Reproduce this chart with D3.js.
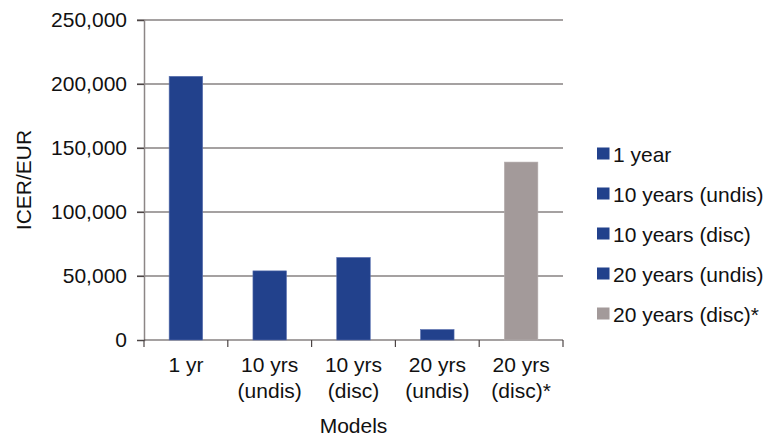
<!DOCTYPE html>
<html>
<head>
<meta charset="utf-8">
<script src="https://cdn.jsdelivr.net/npm/d3@7"></script>
<style>
  body { margin: 0; background: #fff; }
  text { font-family: "Liberation Sans", Arial, sans-serif; fill: #111; }
</style>
</head>
<body>
<div id="chart"></div>
<script>
var categories = [["1 yr"], ["10 yrs", "(undis)"], ["10 yrs", "(disc)"], ["20 yrs", "(undis)"], ["20 yrs", "(disc)*"]];
var values = [206000, 54000, 64500, 8200, 139000];
var seriesNames = ["1 year", "10 years (undis)", "10 years (disc)", "20 years (undis)", "20 years (disc)*"];
var seriesColors = ["#22418c", "#22418c", "#22418c", "#22418c", "#a39a9a"];
var yTicks = [0, 50000, 100000, 150000, 200000, 250000];

var margin = {top: 20, right: 202, bottom: 99, left: 144},
    width = 765 - margin.left - margin.right,
    height = 439 - margin.top - margin.bottom;

var svg = d3.select("#chart")
  .append("svg")
    .attr("width", 765)
    .attr("height", 439)
  .append("g")
    .attr("transform", "translate(" + margin.left + "," + margin.top + ")");

var x = d3.scaleBand()
  .domain(d3.range(categories.length))
  .range([0, width])
  .paddingInner(0.6)
  .paddingOuter(0.3);

var y = d3.scaleLinear()
  .domain([0, 250000])
  .range([height, 0]);

// gridlines
svg.append("g")
  .selectAll("line")
  .data(yTicks.slice(1))
  .enter()
  .append("line")
    .attr("x1", -7)
    .attr("x2", width)
    .attr("y1", function(d) { return y(d); })
    .attr("y2", function(d) { return y(d); })
    .attr("stroke", "#4d4545")
    .attr("stroke-width", 1.2);

// y axis
var yAxis = svg.append("g")
  .call(d3.axisLeft(y).tickValues(yTicks).tickSize(7).tickPadding(10)
    .tickFormat(d3.format(",")));
yAxis.select(".domain").attr("stroke", "#8c8686").attr("stroke-width", 1.5);
yAxis.selectAll(".tick line").attr("stroke", "#4d4545").attr("stroke-width", 1.2);
yAxis.selectAll("text").style("font-size", "21px").attr("fill", "#111");

// x axis
var xAxis = svg.append("g")
  .attr("transform", "translate(0," + height + ")");
xAxis.append("line")
  .attr("x1", 0).attr("x2", width)
  .attr("stroke", "#4d4545").attr("stroke-width", 1.2);
xAxis.selectAll(".sep")
  .data(d3.range(categories.length + 1))
  .enter()
  .append("line")
    .attr("x1", function(i) { return i * width / categories.length; })
    .attr("x2", function(i) { return i * width / categories.length; })
    .attr("y1", 0).attr("y2", 7)
    .attr("stroke", "#4d4545").attr("stroke-width", 1.2);

var labels = xAxis.selectAll(".lbl")
  .data(categories)
  .enter()
  .append("text")
    .attr("text-anchor", "middle")
    .attr("transform", function(d, i) { return "translate(" + (x(i) + x.bandwidth() / 2) + ",0)"; })
    .style("font-size", "21px");
labels.selectAll("tspan")
  .data(function(d) { return d; })
  .enter()
  .append("tspan")
    .attr("x", 0)
    .attr("y", function(d, j) { return 32 + j * 25.5; })
    .text(function(d) { return d; });

// bars
svg.selectAll("myRect")
  .data(values)
  .enter()
  .append("rect")
    .attr("x", function(d, i) { return x(i); })
    .attr("y", function(d) { return y(d); })
    .attr("width", x.bandwidth())
    .attr("height", function(d) { return height - y(d); })
    .attr("fill", function(d, i) { return seriesColors[i]; })
    .attr("stroke", function(d, i) { return i === 4 ? "#b5adad" : "#5a70b0"; })
    .attr("stroke-width", 0.6);

// axis titles
svg.append("text")
  .attr("x", width / 2)
  .attr("y", height + 93)
  .attr("text-anchor", "middle")
  .style("font-size", "21px")
  .text("Models");

svg.append("text")
  .attr("transform", "translate(" + (-113) + "," + (height / 2) + ")rotate(-90)")
  .attr("text-anchor", "middle")
  .style("font-size", "21px")
  .text("ICER/EUR");

// legend
var legend = svg.append("g")
  .attr("transform", "translate(" + (width + 34) + ",133)");
var items = legend.selectAll("g")
  .data(seriesNames)
  .enter()
  .append("g")
    .attr("transform", function(d, i) { return "translate(0," + (i * 40) + ")"; });
items.append("rect")
  .attr("x", 0).attr("y", -5.5)
  .attr("width", 12.5).attr("height", 12)
  .attr("fill", function(d, i) { return seriesColors[i]; });
items.append("text")
  .attr("x", 16)
  .attr("y", 8.5)
  .style("font-size", "21px")
  .text(function(d) { return d; });
</script>
</body>
</html>
